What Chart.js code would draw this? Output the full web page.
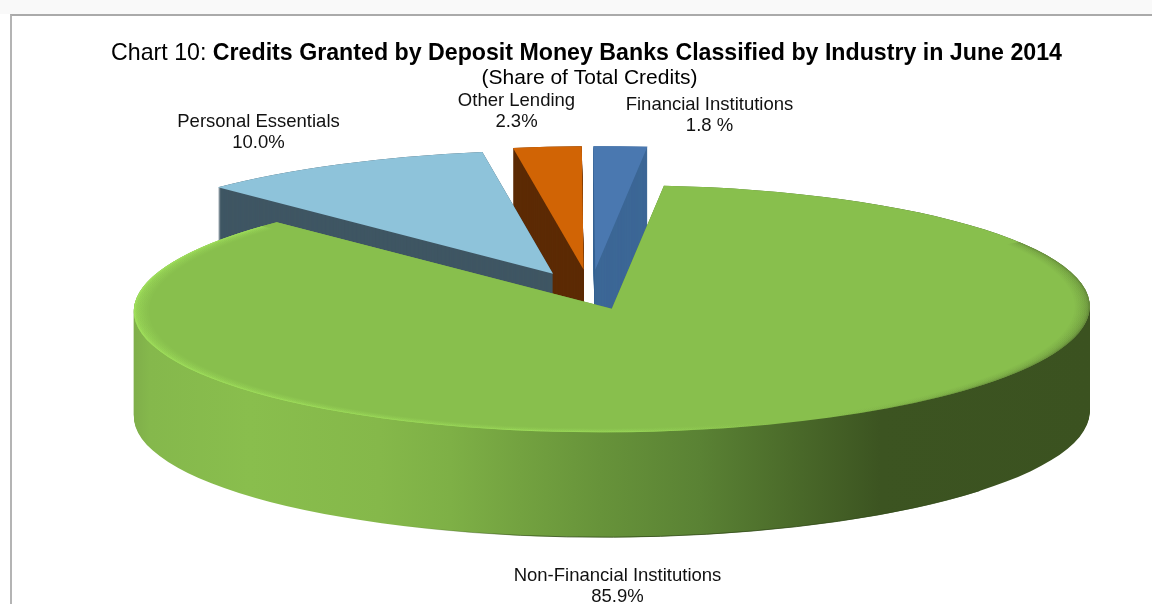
<!DOCTYPE html>
<html><head><meta charset="utf-8">
<script src="https://cdn.jsdelivr.net/npm/chart.js@4"></script>
<style>
html,body{margin:0;padding:0;background:#fff;width:1152px;height:604px;overflow:hidden}
#strip{position:absolute;left:0;top:0;width:1152px;height:14px;background:#f9f9f9}
#frame{position:absolute;left:10px;top:14px;width:1142px;height:590px;box-sizing:border-box;border-top:2px solid #aaa;border-left:2px solid #b4b4b4}
canvas{position:absolute;left:0;top:0}
</style></head><body>
<div id="strip"></div><div id="frame"></div>
<canvas id="c" width="1152" height="604"></canvas>
<script>
const categories = ["Personal Essentials","Other Lending","Financial Institutions","Non-Financial Institutions"];
const shares = [10.0,2.3,1.8,85.9];
const shareTexts = ["10.0%","2.3%","1.8 %","85.9%"];
const explode = [84,90,90,65];
const topColors = ["#8ec3da","#d16405","#4a78b0","#88bf4d"];
const wallColors = ["#3f5663","#5c2a04","#3c6796",null];
const titleLead = "Chart 10: ";
const titleBold = "Credits Granted by Deposit Money Banks Classified by Industry in June 2014";
const subtitle = "(Share of Total Credits)";
const labelCentres = [[258.5,127],[516.5,106],[709.5,110],[617.5,581]];

const view = {tx:590.5, ty:293, k:0.2585, sk:-0.005, depth:105, radius:478};
const FONT = '"Liberation Sans", Arial, sans-serif';

function toView(ctx){
  ctx.transform(1, view.sk, 0, view.k, view.tx, view.ty);
  ctx.translate(-ctx.canvas.width/2, -ctx.canvas.height/2);
}
function wedgePath(ctx, el, dy){
  ctx.save();
  ctx.translate(0, dy);
  toView(ctx);
  ctx.beginPath();
  ctx.moveTo(el.x, el.y);
  ctx.arc(el.x, el.y, el.outerRadius, el.startAngle, el.endAngle);
  ctx.closePath();
  ctx.restore();
}
function wallGradient(ctx){
  const g = ctx.createLinearGradient(133,0,1091,0);
  const stops = [[133,"#7fae4a"],[150,"#85b84c"],[250,"#89be4d"],[380,"#85b84a"],[450,"#7eb046"],
                 [520,"#73a240"],[600,"#67933a"],[700,"#5a8234"],[790,"#4b6b2a"],[880,"#3c5421"],[1091,"#3b5220"]];
  stops.forEach(s=>g.addColorStop((s[0]-133)/958,s[1]));
  return g;
}
function footLine(ctx,el){
  ctx.save();
  ctx.translate(0,view.depth);
  toView(ctx);
  ctx.beginPath();
  ctx.arc(el.x,el.y,el.outerRadius-0.5,Math.PI*0.78,Math.PI*0.22,true);
  ctx.restore();
  const g=ctx.createLinearGradient(400,0,560,0);
  g.addColorStop(0,'rgba(50,75,25,0)');
  g.addColorStop(1,'rgba(50,75,25,0.8)');
  ctx.strokeStyle=g;
  ctx.lineWidth=1;
  ctx.stroke();
}
const pie3d = {
  id:'pie3d',
  afterDatasetsUpdate(chart){
    const meta = chart.getDatasetMeta(0);
    meta.data.forEach((el,i)=>{
      const mid=(el.startAngle+el.endAngle)/2;
      el.x = chart.width/2 + Math.cos(mid)*explode[i];
      el.y = chart.height/2 + Math.sin(mid)*explode[i];
    });
  },
  beforeDatasetsDraw(chart){
    const ctx=chart.ctx;
    const data=chart.getDatasetMeta(0).data;
    const last=data.length-1;
    // walls: back wedges from right to left, then the large front wedge
    [...data.keys()].slice(0,last).reverse().concat(last).forEach(i=>{
      const el=data[i];
      ctx.save();
      ctx.fillStyle = wallColors[i] || wallGradient(ctx);
      for(let d=view.depth;d>=0;d-=1){ wedgePath(ctx,el,d); ctx.fill(); }
      ctx.restore();
    });
  },
  beforeDatasetDraw(chart){
    chart.ctx.save();
    toView(chart.ctx);
  },
  afterDatasetDraw(chart){
    const ctx=chart.ctx;
    const data=chart.getDatasetMeta(0).data;
    const el=data[data.length-1];
    const sx=x=>x-view.tx+chart.width/2;
    ctx.save();
    ctx.beginPath();
    ctx.moveTo(el.x,el.y);
    ctx.arc(el.x,el.y,el.outerRadius,el.startAngle,el.endAngle);
    ctx.closePath();
    ctx.clip();
    const ring=(w,stops)=>{
      const g=ctx.createLinearGradient(sx(133),0,sx(1091),0);
      stops.forEach(s=>g.addColorStop((s[0]-133)/958,s[1]));
      ctx.strokeStyle=g; ctx.lineWidth=w;
      ctx.beginPath();
      // right side, through the front, up the left side
      ctx.arc(el.x,el.y,el.outerRadius,-0.55,Math.PI+0.75);
      ctx.stroke();
    };
    const a=n=>`rgba(165,232,95,${n})`, b=n=>`rgba(95,130,55,${n})`;
    for(const [w,o] of [[30,0.05],[26,0.06],[22,0.07],[18,0.08],[14,0.1],[10,0.14],[6,0.22],[3,0.5]]){
      ring(w,[[133,a(o)],[300,a(o)],[620,a(o*0.8)],[780,a(0)],[820,b(0)],[1000,b(o*0.8)],[1091,b(o*1.2)]]);
    }
    ctx.restore();
    ctx.restore();
    footLine(ctx,el);
  },
  afterDraw(chart){
    const ctx=chart.ctx;
    ctx.save();
    ctx.textBaseline='alphabetic'; ctx.fillStyle='#000';
    const reg='23.2px '+FONT, bold='bold 23.2px '+FONT;
    ctx.font=reg; const w1=ctx.measureText(titleLead).width;
    ctx.font=bold; const w2=ctx.measureText(titleBold).width;
    const x0=586.5-(w1+w2)/2;
    ctx.textAlign='left';
    ctx.font=reg; ctx.fillText(titleLead,x0,60);
    ctx.font=bold; ctx.fillText(titleBold,x0+w1,60);
    ctx.textAlign='center';
    ctx.font='21px '+FONT; ctx.fillText(subtitle,589.5,84);
    ctx.fillStyle='#111';
    ctx.font='18.5px '+FONT;
    categories.forEach((c,i)=>{
      const [x,y]=labelCentres[i];
      ctx.fillText(c,x,y);
      ctx.fillText(shareTexts[i],x,y+21);
    });
    ctx.restore();
  }
};
new Chart(document.getElementById('c'),{
  type:'pie',
  data:{labels:categories,datasets:[{data:shares,backgroundColor:topColors,borderWidth:0,clip:false}]},
  options:{
    responsive:false,animation:false,events:[],
    rotation:-44.5,radius:view.radius,
    layout:{padding:0},
    plugins:{legend:{display:false},tooltip:{enabled:false},title:{display:false}}
  },
  plugins:[pie3d]
});
</script>
</body></html>
